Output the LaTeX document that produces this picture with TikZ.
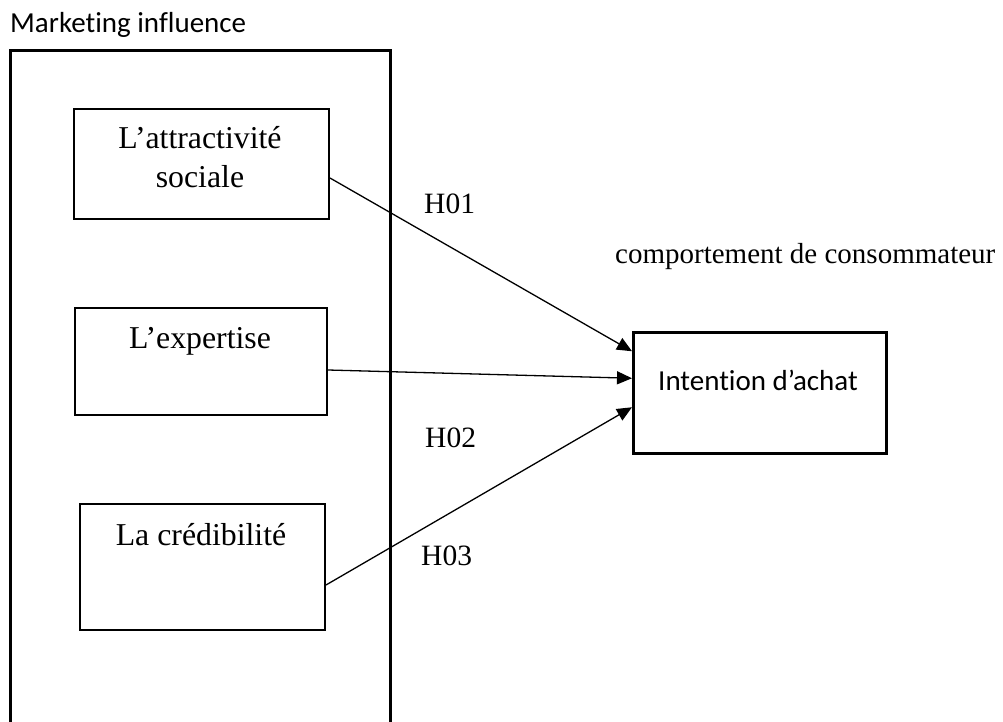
\documentclass[tikz,border=0pt]{standalone}
\usepackage{fontspec}
\setmainfont{Liberation Serif}
\newfontfamily\calibri[Ligatures=NoCommon]{Carlito}
\usetikzlibrary{arrows.meta}
\begin{document}
\begin{tikzpicture}[x=1pt,y=-1pt,
  box/.style={draw,line width=2pt,inner sep=0pt,anchor=north west},
  serif/.style={font=\fontsize{29.5}{39}\selectfont,inner sep=0pt,align=center},
  boxtext/.style={serif,font=\fontsize{31.8}{39}\selectfont},
  sans/.style={font=\calibri\fontsize{29}{35}\selectfont,inner sep=0pt},
  link/.style={line width=1.3pt,-{Triangle[length=15pt,width=13pt]}}]
\clip (0,0) rectangle (1003,722);

% group frame and its title
\node[sans,anchor=base west] (title) at (10,33) {Marketing influence};
\node[draw,line width=3pt,inner sep=0pt,anchor=north west,
      minimum width=380pt,minimum height=700pt] (frame) at (9,49) {};

% the three factors
\node[box,minimum width=255pt,minimum height=110pt] (b1) at (73,108) {};
\node[box,minimum width=252pt,minimum height=107pt] (b2) at (74,307) {};
\node[box,minimum width=245pt,minimum height=126pt] (b3) at (79,503) {};
\node[boxtext,anchor=base] (t1) at (200,187) {L’attractivité\\sociale};
\node[boxtext,anchor=base] (t2) at (200,348) {L’expertise};
\node[boxtext,anchor=base] (t3) at (201,545) {La crédibilité};

% outcome
\node[box,line width=2.5pt,minimum width=253pt,minimum height=121pt] (tg) at (632,331) {};
\node[sans,anchor=base] (tgt) at (758,390) {Intention d’achat};
\node[serif,font=\fontsize{29}{35}\selectfont,anchor=base west] (cc) at (615,263) {comportement de consommateur};

% hypotheses
\draw[link] ([yshift=-14pt]b1.east) -- ([yshift=41.5pt]tg.west);
\draw[link] ([yshift=-8.5pt]b2.east) -- ([yshift=14.5pt]tg.west);
\draw[link] ([yshift=-18pt]b3.east) -- ([yshift=-14.5pt]tg.west);

\node[serif,anchor=base west] (h1) at (424,213) {H01};
\node[serif,anchor=base west] (h2) at (425,447) {H02};
\node[serif,anchor=base west] (h3) at (421,565) {H03};
\end{tikzpicture}
\end{document}
